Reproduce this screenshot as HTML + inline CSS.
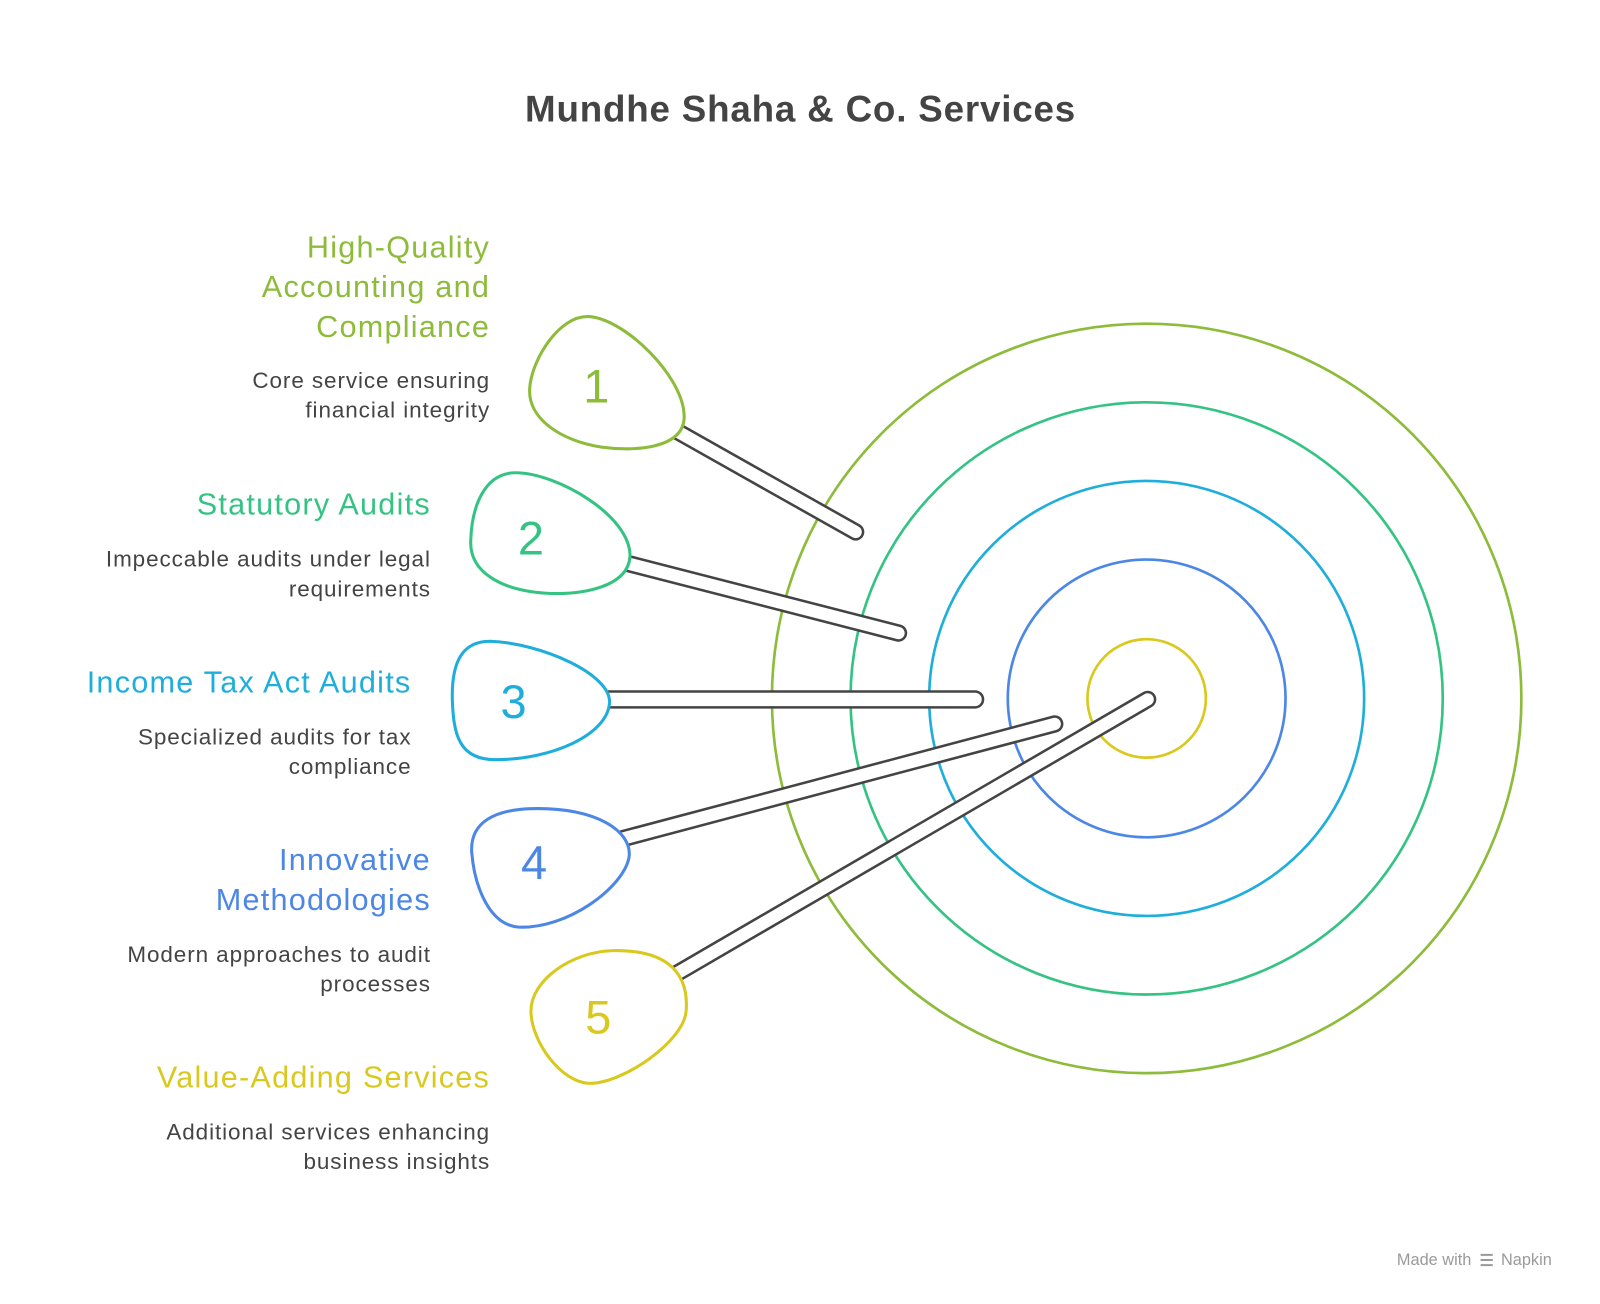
<!DOCTYPE html>
<html><head><meta charset="utf-8"><style>
html,body{margin:0;padding:0;background:#fff;}
svg{display:block;}
text{font-family:"Liberation Sans",sans-serif;}
</style></head><body>
<svg width="1600" height="1304" viewBox="0 0 1567 1277.1" xmlns="http://www.w3.org/2000/svg">
<rect width="1567" height="1278" fill="#fff"/>
<text x="784" y="119" text-anchor="middle" font-size="36" font-weight="bold" fill="#444" letter-spacing="0.8">Mundhe Shaha &amp; Co. Services</text>

<g fill="none" stroke-width="2.6">
<circle cx="1123" cy="684" r="367" stroke="#8DBB3A"/>
<circle cx="1123" cy="684" r="290" stroke="#34C383"/>
<circle cx="1123" cy="684" r="213" stroke="#1FAEDB"/>
<circle cx="1123" cy="684" r="136" stroke="#4C87E6"/>
<circle cx="1123" cy="684" r="58" stroke="#D9C91E"/>
</g>

<g stroke-linecap="round">
<line x1="650" y1="415" x2="838" y2="521" stroke="#444" stroke-width="17"/>
<line x1="650" y1="415" x2="838" y2="521" stroke="#fff" stroke-width="12"/>
<line x1="600" y1="548" x2="880" y2="620" stroke="#444" stroke-width="17"/>
<line x1="600" y1="548" x2="880" y2="620" stroke="#fff" stroke-width="12"/>
<line x1="590" y1="685" x2="955" y2="685" stroke="#444" stroke-width="18"/>
<line x1="590" y1="685" x2="955" y2="685" stroke="#fff" stroke-width="13"/>
<line x1="600" y1="824" x2="1033" y2="709" stroke="#444" stroke-width="17"/>
<line x1="600" y1="824" x2="1033" y2="709" stroke="#fff" stroke-width="12"/>
<line x1="655" y1="958" x2="1124" y2="685" stroke="#444" stroke-width="17"/>
<line x1="655" y1="958" x2="1124" y2="685" stroke="#fff" stroke-width="12"/>
</g>

<g fill="#fff" stroke-width="3">
<path stroke="#8DBB3A" d="M575,310 C610,310 672,370 670,410 C668,440 620,442 590,438 C550,432 515,410 519,378 C522,350 548,310 575,310 Z"/>
<path stroke="#34C383" d="M505,463 C545,463 618,505 617,545 C615,575 570,583 535,581 C490,578 460,560 461,530 C462,495 475,463 505,463 Z"/>
<path stroke="#1FAEDB" d="M480,628 C530,630 598,660 597,688 C595,720 540,744 485,744 C450,744 444,720 443,685 C442,645 455,628 480,628 Z"/>
<path stroke="#4C87E6" d="M520,792 C585,790 620,815 616,840 C610,870 555,910 508,908 C480,906 465,870 462,835 C460,805 485,793 520,792 Z"/>
<path stroke="#D9C91E" d="M600,931 C650,930 675,950 672,990 C670,1020 610,1061 578,1061 C550,1061 520,1020 520,990 C520,960 560,932 600,931 Z"/>
</g>

<g font-size="46" text-anchor="middle">
<text x="584" y="394" fill="#8DBB3A">1</text>
<text x="520" y="543" fill="#34C383">2</text>
<text x="503" y="703" fill="#1FAEDB">3</text>
<text x="523" y="861" fill="#4C87E6">4</text>
<text x="586" y="1012" fill="#D9C91E">5</text>
</g>

<g text-anchor="end" font-size="30" letter-spacing="1.2">
<text x="480" y="252" fill="#8DBB3A">High-Quality</text>
<text x="480" y="291" fill="#8DBB3A">Accounting and</text>
<text x="480" y="330" fill="#8DBB3A">Compliance</text>
<text x="422" y="504" fill="#34C383">Statutory Audits</text>
<text x="403" y="678" fill="#1FAEDB">Income Tax Act Audits</text>
<text x="422" y="852" fill="#4C87E6">Innovative</text>
<text x="422" y="891" fill="#4C87E6">Methodologies</text>
<text x="480" y="1065" fill="#D9C91E">Value-Adding Services</text>
</g>
<g text-anchor="end" font-size="22" fill="#444" letter-spacing="0.9">
<text x="480" y="380">Core service ensuring</text>
<text x="480" y="409">financial integrity</text>
<text x="422" y="555">Impeccable audits under legal</text>
<text x="422" y="584">requirements</text>
<text x="403" y="729">Specialized audits for tax</text>
<text x="403" y="758">compliance</text>
<text x="422" y="942">Modern approaches to audit</text>
<text x="422" y="971">processes</text>
<text x="480" y="1116">Additional services enhancing</text>
<text x="480" y="1145">business insights</text>
</g>

<text x="1441" y="1239" text-anchor="end" font-size="16" fill="#9a9a9a">Made with</text>
<path d="M1450,1229 l12,0 M1450,1234 l12,0 M1450,1239 l12,0" stroke="#9a9a9a" stroke-width="2"/>
<text x="1470" y="1239" font-size="16" fill="#9a9a9a">Napkin</text>
</svg>
</body></html>
